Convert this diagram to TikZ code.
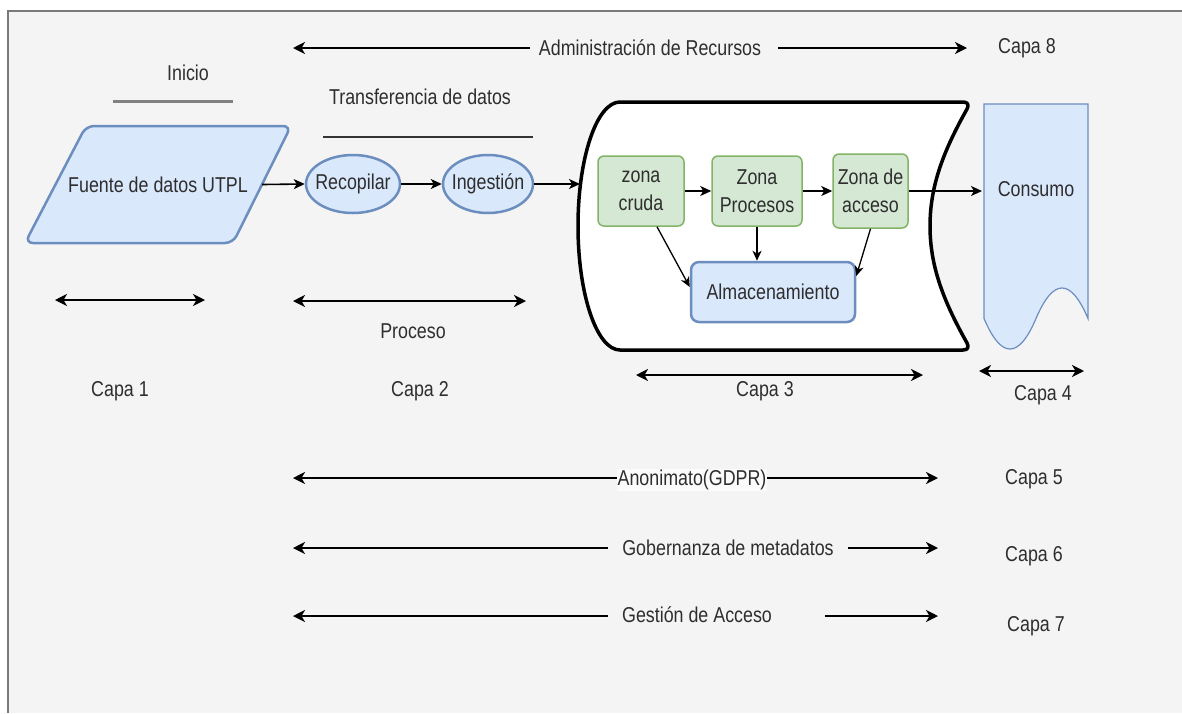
\documentclass[tikz,border=0pt]{standalone}
\usepackage{fontspec}
\setmainfont{Liberation Sans}[FakeStretch=0.83]
\usetikzlibrary{arrows.meta,shapes.geometric,calc}
\definecolor{canvas}{HTML}{F4F4F4}
\definecolor{frame}{HTML}{7A7A7A}
\definecolor{bfill}{HTML}{DAE8FC}
\definecolor{bline}{HTML}{6C8EBF}
\definecolor{gfill}{HTML}{D5E8D4}
\definecolor{gline}{HTML}{82B366}
\definecolor{ink}{HTML}{2E2E2E}
\tikzset{
  bluebox/.style={fill=bfill, draw=bline, line width=2.5pt},
  greenbox/.style={fill=gfill, draw=gline, line width=1.5pt, rounded corners=6pt,
    align=center, inner sep=2pt},
  conn/.style={draw=black, line width=1.6pt, -{Stealth[length=11pt,width=10pt,inset=3pt]}},
  connsm/.style={draw=black, line width=1.3pt, -{Stealth[length=10pt,width=9pt,inset=3pt]}},
  span/.style={draw=black, line width=2pt,
    {Stealth[length=12pt,width=12pt,inset=3.5pt]}-{Stealth[length=12pt,width=12pt,inset=3.5pt]}},
  halfspan/.style={draw=black, line width=2pt, -{Stealth[length=12pt,width=12pt,inset=3.5pt]}},
  lbl/.style={inner sep=0pt}
}
\begin{document}
\begin{tikzpicture}[x=1pt, y=-1pt, font=\fontsize{21.5}{28}\selectfont,
  every node/.style={text=ink}]
\useasboundingbox (0,0) rectangle (1182,713);
% canvas and frame
\fill[canvas] (8,11) rectangle (1182,713);
\draw[frame, line width=1.5pt] (8,713) -- (8,11) -- (1182,11);

% headings
\node[lbl] (inicio) at (188,73) {Inicio};
\draw[line width=3pt, black!50] (113,101) -- (233,101);
\node[lbl] (transf) at (420,97) {Transferencia de datos};
\draw[line width=1.5pt, black!80] (323,137) -- (533,137);

% source (parallelogram outline, text node spans to the slanted edge)
\draw[bluebox, rounded corners=8pt]
  (86,126) -- (291,126) -- (233,243) -- (25,243) -- cycle;
\node[minimum width=208pt, minimum height=40pt, inner sep=0pt] (fuente) at (158,184.5) {Fuente de datos UTPL};
\node[ellipse, bluebox, minimum width=94pt, minimum height=58pt,
  label=center:Recopilar] (recop) at (353,184) {};
\node[ellipse, bluebox, minimum width=90pt, minimum height=58pt,
  label=center:Ingestión] (ingest) at (488,184) {};

% data lake container
\draw[line width=3.5pt, fill=white, line join=round]
  (620,102) -- (963,102) .. controls (968,102) and (969,105) .. (967,109)
  .. controls (944,150) and (930,185) .. (930,226)
  .. controls (930,267) and (944,302) .. (967,343)
  .. controls (969,347) and (968,350) .. (963,350) -- (620,350)
  .. controls (596.8,350) and (578,294.5) .. (578,226)
  .. controls (578,157.5) and (596.8,102) .. (620,102) -- cycle;
\coordinate (lake) at (580,184);

% zones
\node[greenbox, minimum width=86pt, minimum height=70pt] (cruda) at (641,191) {zona\\cruda};
\node[greenbox, minimum width=90pt, minimum height=70pt] (proc) at (757,191) {Zona\\Procesos};
\node[greenbox, minimum width=75pt, minimum height=74pt] (acceso) at (870.5,191) {Zona de\\acceso};
\node[bluebox, rounded corners=8pt, minimum width=164pt, minimum height=60pt] (alm) at (773,292) {Almacenamiento};

% consumption document
\draw[fill=bfill, draw=bline, line width=1.2pt]
  (984,104) -- (1088,104) -- (1088,318.5)
  .. controls (1070.7,277.8) and (1053.3,277.8) .. (1036,318.5)
  .. controls (1018.7,359.2) and (1001.3,359.2) .. (984,318.5) -- cycle;
\node[lbl] (consumo) at (1036,189) {Consumo};
\coordinate (docW) at (982,189);

% flow
\draw[conn] (fuente.east) -- (recop.west);
\draw[conn] (recop.east) -- (ingest.west);
\draw[conn] (ingest.east) -- (lake);
\draw[conn] (cruda.east) -- (proc.west);
\draw[conn] (proc.east) -- (acceso.west);
\draw[conn] (acceso.east) -- (acceso.east -| docW);
\draw[connsm] ($(cruda.south)+(16,0)$) -- ($(alm.west)+(0,-5)$);
\draw[connsm] (proc.south) -- (proc.south |- alm.north);
\draw[connsm] (acceso.south) -- ($(alm.east)+(0,-16)$);

% layer spans
\coordinate (s1a) at (55,300);  \coordinate (s1b) at (205,300);
\coordinate (s2a) at (293,301); \coordinate (s2b) at (526,301);
\coordinate (s3a) at (636,375); \coordinate (s3b) at (923,375);
\coordinate (s4a) at (979,371); \coordinate (s4b) at (1084,371);
\draw[span] (s1a) -- (s1b);
\draw[span] (s2a) -- (s2b);
\draw[span] (s3a) -- (s3b);
\draw[span] (s4a) -- (s4b);
\node[lbl] (proceso) at (413,331) {Proceso};
\node[lbl] (capa1) at (120,391) {Capa 1};
\node[lbl] (capa2) at (420,391) {Capa 2};
\node[lbl] (capa3) at (765,391) {Capa 3};
\node[lbl] (capa4) at (1043,395) {Capa 4};

% layer 8
\node[lbl] (admin) at (650,48) {Administración de Recursos};
\coordinate (c8L) at (293,48); \coordinate (c8R) at (967,48);
\draw[halfspan] ($(admin.west)+(-9,0)$) -- (c8L);
\draw[halfspan] ($(admin.east)+(17,0)$) -- (c8R);
\node[lbl] (capa8) at (1027,48) {Capa 8};

% layer 5
\coordinate (c5L) at (293,478); \coordinate (c5R) at (938,478);
\draw[span] (c5L) -- (c5R);
\node[fill=white!60!canvas, inner sep=1pt] (anon) at (692,480) {Anonimato(GDPR)};
\node[lbl] (capa5) at (1034,479) {Capa 5};

% layer 6
\node[lbl] (gob) at (728,548) {Gobernanza de metadatos};
\coordinate (c6L) at (293,548); \coordinate (c6R) at (938,548);
\draw[halfspan] ($(gob.west)+(-14,0)$) -- (c6L);
\draw[halfspan] ($(gob.east)+(14,0)$) -- (c6R);
\node[lbl] (capa6) at (1034,556) {Capa 6};

% layer 7
\node[lbl] (gest) at (697,615) {Gestión de Acceso};
\coordinate (c7L) at (293,616); \coordinate (c7R) at (938,616);
\draw[halfspan] ($(gest.west)+(-14,1)$) -- (c7L);
\draw[halfspan] ($(gest.east)+(53,1)$) -- (c7R);
\node[lbl] (capa7) at (1036,626) {Capa 7};
\end{tikzpicture}
\end{document}
